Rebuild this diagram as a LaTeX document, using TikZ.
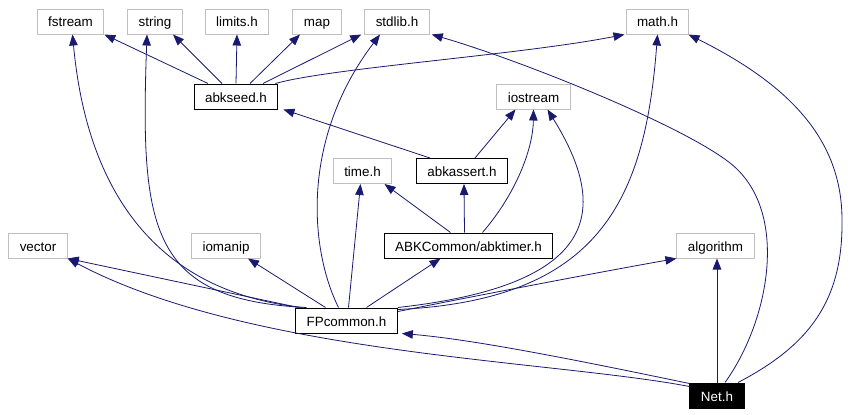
\documentclass[tikz,border=0pt]{standalone}
\usepackage{fontspec}
\setmainfont{Liberation Sans}
\usepackage{tikz}
\usetikzlibrary{arrows.meta}
\definecolor{edgeblue}{HTML}{191970}
\definecolor{extgray}{HTML}{BFBFBF}

\begin{document}
\begin{tikzpicture}[
x=1pt, y=-1pt,
font=\fontsize{13.4}{16}\selectfont,
hdr/.style={draw, line width=1pt, minimum height=25pt, inner xsep=11pt, inner ysep=0pt, text height=11pt, text depth=0pt},
ext/.style={hdr, draw=extgray},
cur/.style={hdr, fill=black, text=white},
dep/.style={{Triangle[length=11pt,width=8.5pt]}-, draw=edgeblue, line width=0.8pt}
]
\useasboundingbox (0,0) rectangle (863,415);

% top row: system headers
\node[ext] (fstr) at (70.5,21.5) {fstream};
\node[ext] (str) at (155,21.5) {string};
\node[ext] (lim) at (237,21.5) {limits.h};
\node[ext] (map) at (317,21.5) {map};
\node[ext] (stdl) at (397,21.5) {stdlib.h};
\node[ext] (math) at (657.5,21.5) {math.h};

\node[hdr] (seed) at (236,96.5) {abkseed.h};
\node[ext] (ios) at (533.5,96.5) {iostream};

\node[ext] (time) at (362.5,171) {time.h};
\node[hdr] (asrt) at (462,171) {abkassert.h};

\node[ext] (vec) at (38,245.5) {vector};
\node[ext] (ioman) at (226,245.5) {iomanip};
\node[hdr] (timer) at (468.5,245.5) {ABKCommon/abktimer.h};
\node[ext] (algo) at (715.5,245.5) {algorithm};

\node[hdr] (fpc) at (346.5,320.5) {FPcommon.h};
\node[cur] (net) at (717,395.5) {Net.h};

% abkseed.h
\draw[dep] (fstr.south east) -- ([xshift=-28pt]seed.north);
\draw[dep] ([xshift=18pt]str.south) -- ([xshift=-14pt]seed.north);
\draw[dep] (lim.south) -- (seed.north);
\draw[dep] ([xshift=-17pt]map.south) -- ([xshift=14pt]seed.north);
\draw[dep] ([xshift=-3pt]stdl.south west) -- ([xshift=27pt]seed.north);
\draw[dep] ([xshift=-1pt]math.south west) .. controls (520,55) and (330,68) .. ([xshift=-3pt]seed.north east);

% abkassert.h and abktimer.h
\draw[dep] ([xshift=5pt]seed.south east) -- ([xshift=-32pt]asrt.north);
\draw[dep] ([xshift=-18pt]ios.south) -- ([xshift=13pt]asrt.north);
\draw[dep] ([xshift=22pt]time.south) -- ([xshift=-18pt]timer.north);
\draw[dep] ([xshift=2pt]asrt.south) -- ([xshift=-4pt]timer.north);
\draw[dep] (ios.south) .. controls (533,150) and (515,195) .. ([xshift=14pt]timer.north);

% FPcommon.h
\draw[dep] ([xshift=2pt]fstr.south) .. controls (85,170) and (140,290) .. ([xshift=-44pt]fpc.north);
\draw[dep] ([xshift=-8pt]str.south) .. controls (140,230) and (150,300) .. ([xshift=-40pt]fpc.north);
\draw[dep] (vec.south east) -- ([xshift=-48pt]fpc.north);
\draw[dep] ([xshift=22pt]ioman.south) -- ([xshift=-21pt]fpc.north);
\draw[dep] ([xshift=-17pt]stdl.south) .. controls (300,140) and (310,250) .. ([xshift=-8pt]fpc.north);
\draw[dep] ([xshift=-2pt]time.south) -- ([xshift=2pt]fpc.north);
\draw[dep] ([xshift=-28pt]timer.south) -- ([xshift=20pt]fpc.north);
\draw[dep] ([xshift=14pt]ios.south) .. controls (610,210) and (600,285) .. (fpc.north east);
\draw[dep] (math.south) .. controls (645,200) and (600,300) .. ([yshift=-2pt]fpc.north east);
\draw[dep] (algo.south west) .. controls (600,272) and (480,295) .. ([yshift=-4pt]fpc.north east);

% Net.h
\draw[dep] ([xshift=4pt]fpc.south east) .. controls (480,340) and (600,365) .. ([yshift=-1pt]net.north west);
\draw[dep] (vec.south east) .. controls (250,355) and (550,360) .. ([yshift=-4pt]net.north west);
\draw[dep] (net.north |- algo.south) -- (net.north);
\draw[dep] ([xshift=2pt]stdl.south east) .. controls (520,60) and (682,125) .. (730,163) .. controls (790,210) and (770,320) .. ([xshift=8pt]net.north);
\draw[dep] ([xshift=-1pt]math.south east) .. controls (790,85) and (842,140) .. (842,220) .. controls (843,300) and (810,345) .. ([xshift=21pt]net.north);
\end{tikzpicture}
\end{document}
